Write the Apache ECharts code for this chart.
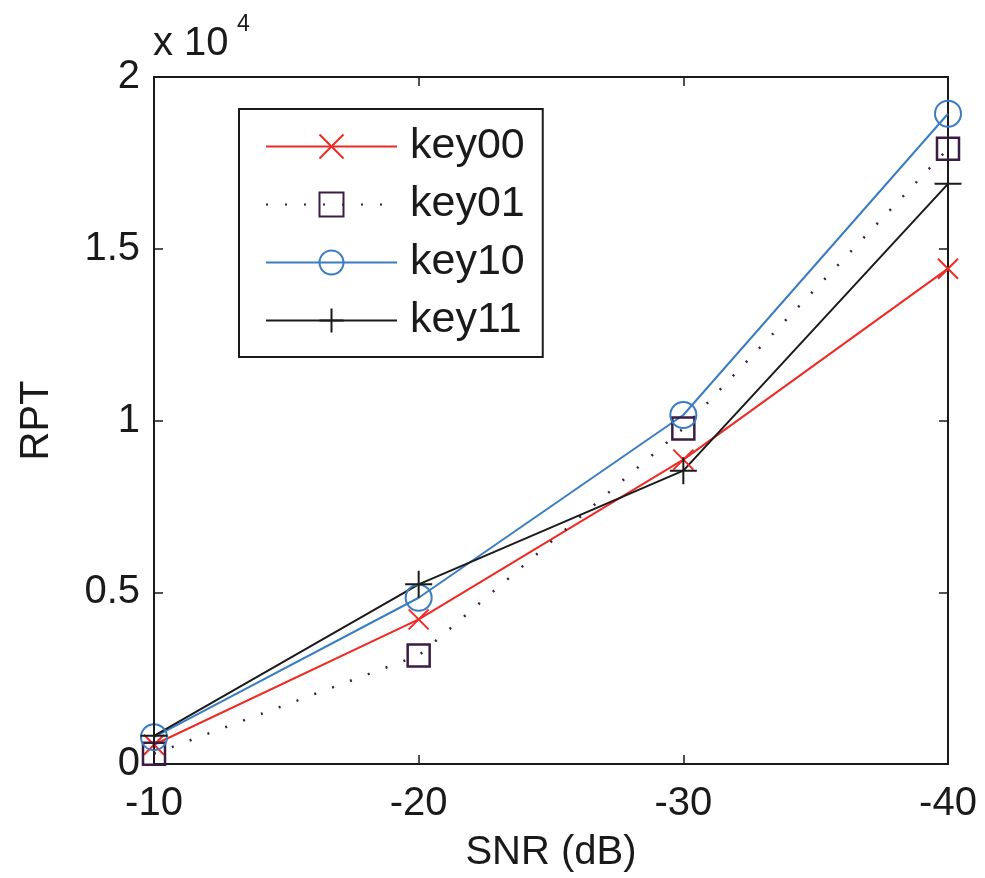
<!DOCTYPE html>
<html>
<head>
<meta charset="utf-8">
<script src="https://cdn.jsdelivr.net/npm/echarts@6/dist/echarts.min.js"></script>
<style>html,body{margin:0;padding:0;background:#fff}#c{width:985px;height:878px}</style>
</head>
<body>
<div id="c"></div>
<script>
var snr = [-10, -20, -30, -40];
var key00 = [560, 4210, 8860, 14420];
var key01 = [300, 3160, 9770, 17910];
var key10 = [780, 4840, 10160, 18930];
var key11 = [820, 5230, 8540, 16890];
var seriesNames = ['key00', 'key01', 'key10', 'key11'];

var FONT = "'Liberation Sans', Arial, Helvetica, sans-serif";
var INK = '#1a1a1a';
var RED = '#ee2a24';
var BLUE = '#3a7dc2';
var PURPLE = '#3b1d44';

function pairs(vals) { return snr.map(function (x, i) { return [x, vals[i]]; }); }

var chart = echarts.init(document.getElementById('c'), null, {renderer: 'canvas'});

var axisLine = {show: true, onZero: false, lineStyle: {color: INK, width: 2}};
var tick = {show: true, inside: true, length: 9, lineStyle: {color: INK, width: 1.5}};

var option = {
  animation: false,
  backgroundColor: '#fff',
  textStyle: {fontFamily: FONT},
  grid: {left: 154, right: 37, top: 77, bottom: 112, containLabel: false},
  xAxis: [{
    type: 'value', inverse: true, min: -40, max: -10, interval: 10,
    position: 'bottom',
    name: 'SNR (dB)', nameLocation: 'middle', nameGap: 69,
    nameTextStyle: {fontSize: 40, color: INK, fontFamily: FONT},
    axisLine: axisLine, axisTick: tick, splitLine: {show: false},
    axisLabel: {fontSize: 40, color: INK, fontFamily: FONT, margin: 20}
  }, {
    type: 'value', inverse: true, min: -40, max: -10, interval: 10,
    position: 'top',
    axisLine: axisLine, axisTick: tick, splitLine: {show: false},
    axisLabel: {show: false}
  }],
  yAxis: [{
    type: 'value', min: 0, max: 20000, interval: 5000,
    position: 'left',
    name: 'RPT', nameLocation: 'middle', nameGap: 97,
    nameTextStyle: {fontSize: 40, color: INK, fontFamily: FONT},
    axisLine: axisLine, axisTick: tick, splitLine: {show: false},
    axisLabel: {fontSize: 40, color: INK, fontFamily: FONT, margin: 14,
      formatter: function (v) { return String(v / 10000); }}
  }, {
    type: 'value', min: 0, max: 20000, interval: 5000,
    position: 'right',
    axisLine: axisLine, axisTick: tick, splitLine: {show: false},
    axisLabel: {show: false}
  }],
  legend: {
    orient: 'vertical', left: 239, top: 109,
    padding: [16, 18, 15, 26],
    itemWidth: 131, itemHeight: 30, itemGap: 15,
    borderColor: INK, borderWidth: 2, backgroundColor: '#fff',
    textStyle: {fontSize: 43, color: INK, fontFamily: FONT, padding: [0, 0, 0, 8]},
    data: seriesNames
  },
  graphic: [
    {type: 'text', left: 153, top: 24, style: {text: 'x 10', font: '40px ' + FONT, fill: INK}},
    {type: 'text', left: 237, top: 13, style: {text: '4', font: '23px ' + FONT, fill: INK}}
  ],
  series: [
    {name: seriesNames[0], type: 'line', data: pairs(key00),
     symbol: 'path://M0,0L10,10M10,0L0,10', symbolSize: 20,
     itemStyle: {color: 'rgba(0,0,0,0)', borderColor: RED, borderWidth: 2},
     lineStyle: {color: RED, width: 2}, color: RED},
    {name: seriesNames[1], type: 'line', data: pairs(key01),
     symbol: 'rect', symbolSize: 22,
     itemStyle: {color: 'rgba(0,0,0,0)', borderColor: PURPLE, borderWidth: 2.5},
     lineStyle: {color: PURPLE, width: 2.5, type: [2, 17]}, color: PURPLE},
    {name: seriesNames[2], type: 'line', data: pairs(key10),
     symbol: 'circle', symbolSize: 26,
     itemStyle: {color: 'rgba(0,0,0,0)', borderColor: BLUE, borderWidth: 2},
     lineStyle: {color: BLUE, width: 2}, color: BLUE},
    {name: seriesNames[3], type: 'line', data: pairs(key11),
     symbol: 'path://M5,0L5,10M0,5L10,5', symbolSize: 27,
     itemStyle: {color: 'rgba(0,0,0,0)', borderColor: INK, borderWidth: 2},
     lineStyle: {color: INK, width: 2}, color: INK}
  ]
};
chart.setOption(option);
</script>
</body>
</html>
